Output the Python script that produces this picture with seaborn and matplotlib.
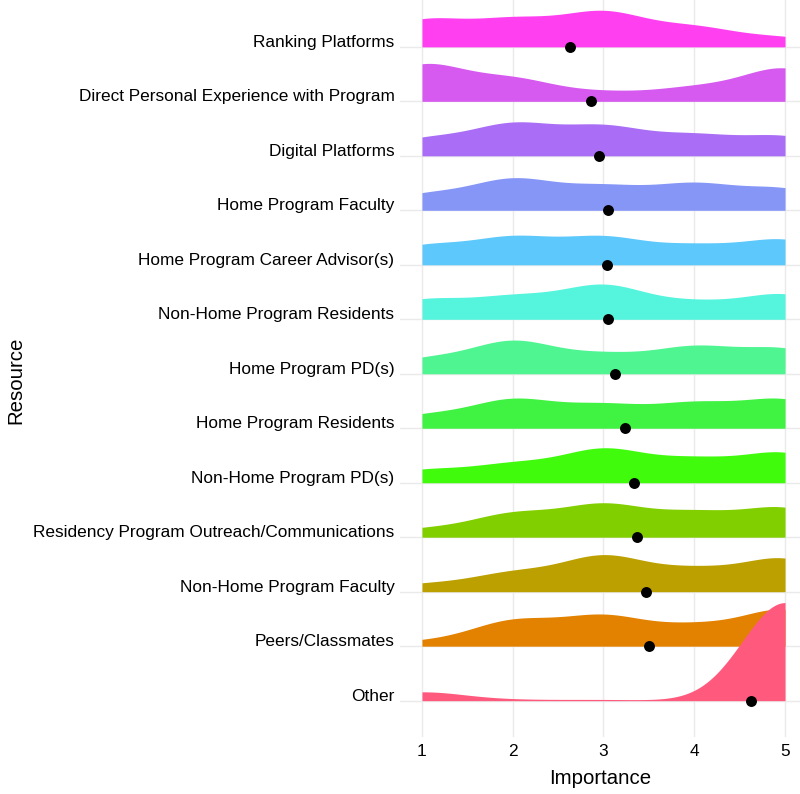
import numpy as np
import matplotlib
matplotlib.use("Agg")
import matplotlib.pyplot as plt
import seaborn as sns

# ====================== data ======================
# resources, listed top to bottom as in the chart
resources = [
    "Ranking Platforms",
    "Direct Personal Experience with Program",
    "Digital Platforms",
    "Home Program Faculty",
    "Home Program Career Advisor(s)",
    "Non-Home Program Residents",
    "Home Program PD(s)",
    "Home Program Residents",
    "Non-Home Program PD(s)",
    "Residency Program Outreach/Communications",
    "Non-Home Program Faculty",
    "Peers/Classmates",
    "Other",
]
ratings = [1, 2, 3, 4, 5]

# number of answers for rating 1..5 (estimated from the ridges)
ranking_platforms = [47, 45, 59, 33, 16]
direct_experience = [65, 38, 15, 23, 59]
digital_platforms = [29, 54, 49, 34, 34]
home_faculty = [27, 53, 39, 44, 37]
home_career_advisors = [33, 46, 46, 31, 44]
nonhome_residents = [34, 37, 58, 27, 44]
home_pds = [25, 56, 31, 45, 43]
home_residents = [22, 49, 38, 41, 50]
nonhome_pds = [22, 31, 57, 38, 52]
program_outreach = [14, 40, 55, 40, 51]
nonhome_faculty = [13, 32, 61, 36, 58]
peers_classmates = [8, 44, 51, 33, 64]
other = [8, 1, 1, 0, 90]

counts = [ranking_platforms, direct_experience, digital_platforms, home_faculty,
          home_career_advisors, nonhome_residents, home_pds, home_residents,
          nonhome_pds, program_outreach, nonhome_faculty, peers_classmates, other]

colors = ["#FF3FF0", "#D65AEF", "#AA6EF6", "#8596F7", "#5CC8FB", "#54F4DD", "#4EF591",
          "#40F241", "#40FB0C", "#82CF00", "#BBA000", "#E38100", "#FF5A7D"]

BW = 0.47        # joint bandwidth, like ggridges
MAX_HEIGHT = 1.8  # tallest ridge, in rows

# ====================== plot ======================
sns.set_theme(style="white")
plt.rcParams["font.family"] = ["Liberation Sans", "DejaVu Sans"]

fig = plt.figure(figsize=(8, 7.94), dpi=100)
ax = fig.add_axes([400 / 800, 57 / 794, 400 / 800, 737 / 794])

n = len(resources)
ypos = [n - 1 - i for i in range(n)]

# seaborn computes each density on a scratch axes, ridges are filled on the main one
tmp_fig, tmp_ax = plt.subplots()
curves = []
for cnt in counts:
    vals = np.repeat(ratings, cnt).astype(float)
    sns.kdeplot(x=vals, bw_method=BW / vals.std(ddof=1), cut=0, gridsize=400, ax=tmp_ax)
    curves.append(tmp_ax.lines[-1].get_data())
plt.close(tmp_fig)

scale = MAX_HEIGHT / max(d.max() for _, d in curves)
for i, ((xs, dens), col) in enumerate(zip(curves, colors)):
    ax.fill_between(xs, ypos[i], ypos[i] + dens * scale, color=col, lw=0, zorder=2 + i)

means = [np.average(ratings, weights=c) for c in counts]
ax.scatter(means, ypos, s=62, color="black", lw=0, zorder=60)

ax.set_xlim(0.758, 5.165)
ax.set_ylim(-0.667, 12.86)
ax.set_xticks(ratings)
ax.set_yticks(ypos)
ax.set_yticklabels(resources)
for t in ax.get_yticklabels():
    t.set_verticalalignment("baseline")
ax.tick_params(axis="y", length=0, pad=4, labelsize=12.4, labelcolor="black")
ax.tick_params(axis="x", length=0, pad=5, labelsize=12.4, labelcolor="black")

ax.grid(True, color="#EAEAEA", lw=1.0)
ax.set_axisbelow(True)
for s in ax.spines.values():
    s.set_visible(False)

ax.set_xlabel("Importance", fontsize=14.7, color="black")
ax.set_ylabel("Resource", fontsize=14.7, color="black")
ax.xaxis.set_label_coords(0.5, -0.0434)
ax.yaxis.set_label_coords(-0.9605, 0.484)
ax.yaxis.label.set_horizontalalignment("center")
ax.yaxis.label.set_verticalalignment("center")

fig.savefig("out.png", dpi=100)
